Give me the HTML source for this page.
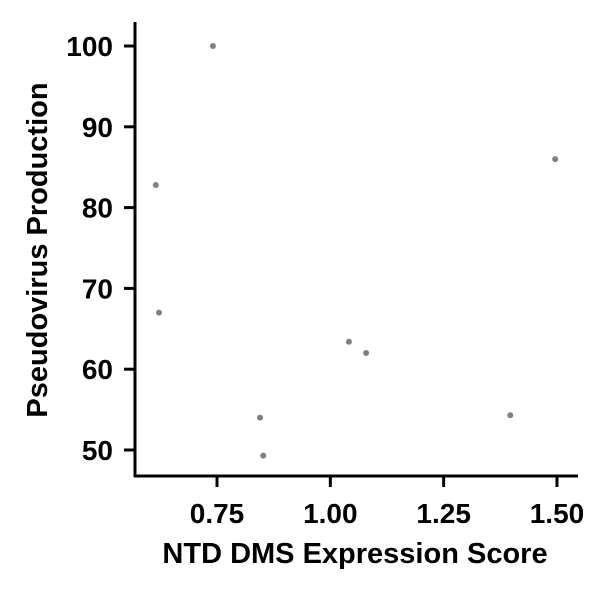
<!DOCTYPE html>
<html><head><meta charset="utf-8"><style>body{margin:0;background:#fff}svg{display:block}text{font-family:"Liberation Sans",Arial,sans-serif;font-weight:bold;fill:#000}</style></head>
<body>
<svg id="c" width="600" height="600"></svg>
<script>
const xValues=[0.741,0.615,0.622,1.041,1.079,0.845,0.852,1.397,1.496];
const yValues=[100,82.8,67.0,63.4,62.0,54.0,49.3,54.3,86.0];
const xTicks=[0.75,1.00,1.25,1.50];
const xTickLabels=["0.75","1.00","1.25","1.50"];
const yTicks=[50,60,70,80,90,100];
const yTickLabels=["50","60","70","80","90","100"];
const NS="http://www.w3.org/2000/svg",svg=document.getElementById('c');
const sx=v=>217+(v-0.75)*453.3, sy=v=>450-(v-50)*8.08;
function mk(t,a,p){const e=document.createElementNS(NS,t);for(const k in a)e.setAttribute(k,a[k]);(p||svg).appendChild(e);return e;}
const ax=mk('g',{});


const yl=mk('line',{x1:135,y1:22,x2:135,y2:477,stroke:'#000','stroke-width':3},ax);


const xl=mk('line',{x1:134,y1:476,x2:578,y2:476,stroke:'#000','stroke-width':3},ax);


yTicks.forEach((v,i)=>{
 const l=mk('line',{x1:124,x2:135,y1:sy(v),y2:sy(v),stroke:'#000','stroke-width':3},ax);
 
 
 const t=mk('text',{x:113,y:sy(v)+10,'text-anchor':'end','font-size':28},ax);t.textContent=yTickLabels[i];
 
 
});
xTicks.forEach((v,i)=>{
 const l=mk('line',{x1:sx(v),x2:sx(v),y1:476,y2:487,stroke:'#000','stroke-width':3},ax);
 
 
 const t=mk('text',{x:sx(v),y:523,'text-anchor':'middle','font-size':28},ax);t.textContent=xTickLabels[i];
 
 
});
const xt=mk('text',{x:355,y:563,'text-anchor':'middle','font-size':29});xt.textContent='NTD DMS Expression Score';


const yt=mk('text',{x:47,y:250,'text-anchor':'middle','font-size':29,transform:'rotate(-90 47 250)'});yt.textContent='Pseudovirus Production';


xValues.forEach((v,i)=>{
 const c=mk('circle',{cx:sx(v),cy:sy(yValues[i]),r:3,fill:'#808080'});
 
 
});
</script>
</body></html>
